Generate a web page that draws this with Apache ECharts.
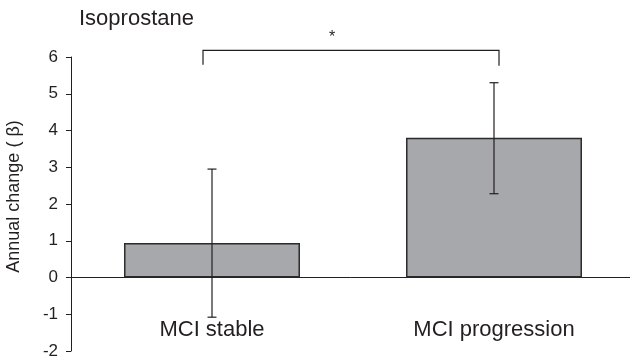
<!DOCTYPE html>
<html>
<head>
<meta charset="utf-8">
<script src="https://cdn.jsdelivr.net/npm/echarts@6/dist/echarts.min.js"></script>
<style>
html,body{margin:0;padding:0;background:#fff;}
#chart{width:630px;height:362px;}
</style>
</head>
<body>
<div id="chart"></div>
<script>
var titleText = 'Isoprostane';
var categories = ['MCI stable', 'MCI progression'];
var means = [0.94, 3.80];
var errLow = [-1.08, 2.28];
var errHigh = [2.95, 5.30];
var bracket = [[0, 1, 6.18, 5.79]]; // from category, to category, top value, drop value
var sigLabel = '*';
var yTicks = [-2, -1, 0, 1, 2, 3, 4, 5, 6];

var FONT = '"Liberation Sans", Arial, sans-serif';
var chart = echarts.init(document.getElementById('chart'), null, {renderer: 'canvas'});

var option = {
  animation: false,
  backgroundColor: '#ffffff',
  title: {
    text: titleText,
    left: 74,
    top: 3,
    textStyle: {fontFamily: FONT, fontSize: 22, fontWeight: 'normal', color: '#231f20'}
  },
  grid: {left: 71, right: -5, top: 57, bottom: 11, containLabel: false, outerBoundsMode: 'none'},
  xAxis: {
    type: 'category',
    data: categories,
    axisLine: {onZero: true, lineStyle: {color: '#231f20', width: 1}},
    axisTick: {show: false},
    axisLabel: {fontFamily: FONT, fontSize: 22, color: '#231f20', margin: -32}
  },
  yAxis: {
    type: 'value',
    min: yTicks[0],
    max: yTicks[yTicks.length - 1],
    interval: 1,
    name: 'Annual change ( β)',
    nameLocation: 'middle',
    nameGap: 48,
    nameTextStyle: {fontFamily: FONT, fontSize: 18, color: '#231f20', padding: [0, 0, 0, 15]},
    axisLine: {show: true, lineStyle: {color: '#231f20', width: 1}},
    axisTick: {show: true, inside: false, length: 5, lineStyle: {color: '#231f20'}},
    axisLabel: {fontFamily: FONT, fontSize: 17, color: '#231f20', margin: 13},
    splitLine: {show: false}
  },
  series: [
    {
      type: 'bar',
      data: means,
      barWidth: '62.4%',
      itemStyle: {color: '#a7a8ab', borderColor: '#2b2b2b', borderWidth: 1.5},
      z: 2
    },
    {
      type: 'custom',
      clip: false,
      z: 5,
      data: categories.map(function (c, i) { return [i, errLow[i], errHigh[i]]; }),
      renderItem: function (params, api) {
        var lo = api.coord([api.value(0), api.value(1)]);
        var hi = api.coord([api.value(0), api.value(2)]);
        var hw = 4.5;
        var st = {stroke: '#231f20', lineWidth: 1.2};
        return {
          type: 'group',
          children: [
            {type: 'line', shape: {x1: lo[0], y1: lo[1], x2: hi[0], y2: hi[1]}, style: st},
            {type: 'line', shape: {x1: hi[0] - hw, y1: hi[1], x2: hi[0] + hw, y2: hi[1]}, style: st},
            {type: 'line', shape: {x1: lo[0] - hw, y1: lo[1], x2: lo[0] + hw, y2: lo[1]}, style: st}
          ]
        };
      }
    },
    {
      type: 'custom',
      clip: false,
      z: 5,
      data: bracket,
      renderItem: function (params, api) {
        var a = api.coord([api.value(0), api.value(2)]);
        var b = api.coord([api.value(1), api.value(2)]);
        var d = api.coord([api.value(0), api.value(3)]);
        var x1 = a[0] - 9, x2 = b[0] + 5;
        var st = {stroke: '#231f20', lineWidth: 1.2, fill: null};
        return {
          type: 'group',
          children: [
            {type: 'polyline', shape: {points: [[x1, d[1]], [x1, a[1]], [x2, a[1]], [x2, d[1] + 1]]}, style: st},
            {type: 'text', style: {text: sigLabel, x: (x1 + x2) / 2 - 19, y: a[1] - 21, align: 'center', verticalAlign: 'top', font: '16px ' + FONT, fill: '#231f20'}}
          ]
        };
      }
    }
  ]
};
chart.setOption(option);
</script>
</body>
</html>
